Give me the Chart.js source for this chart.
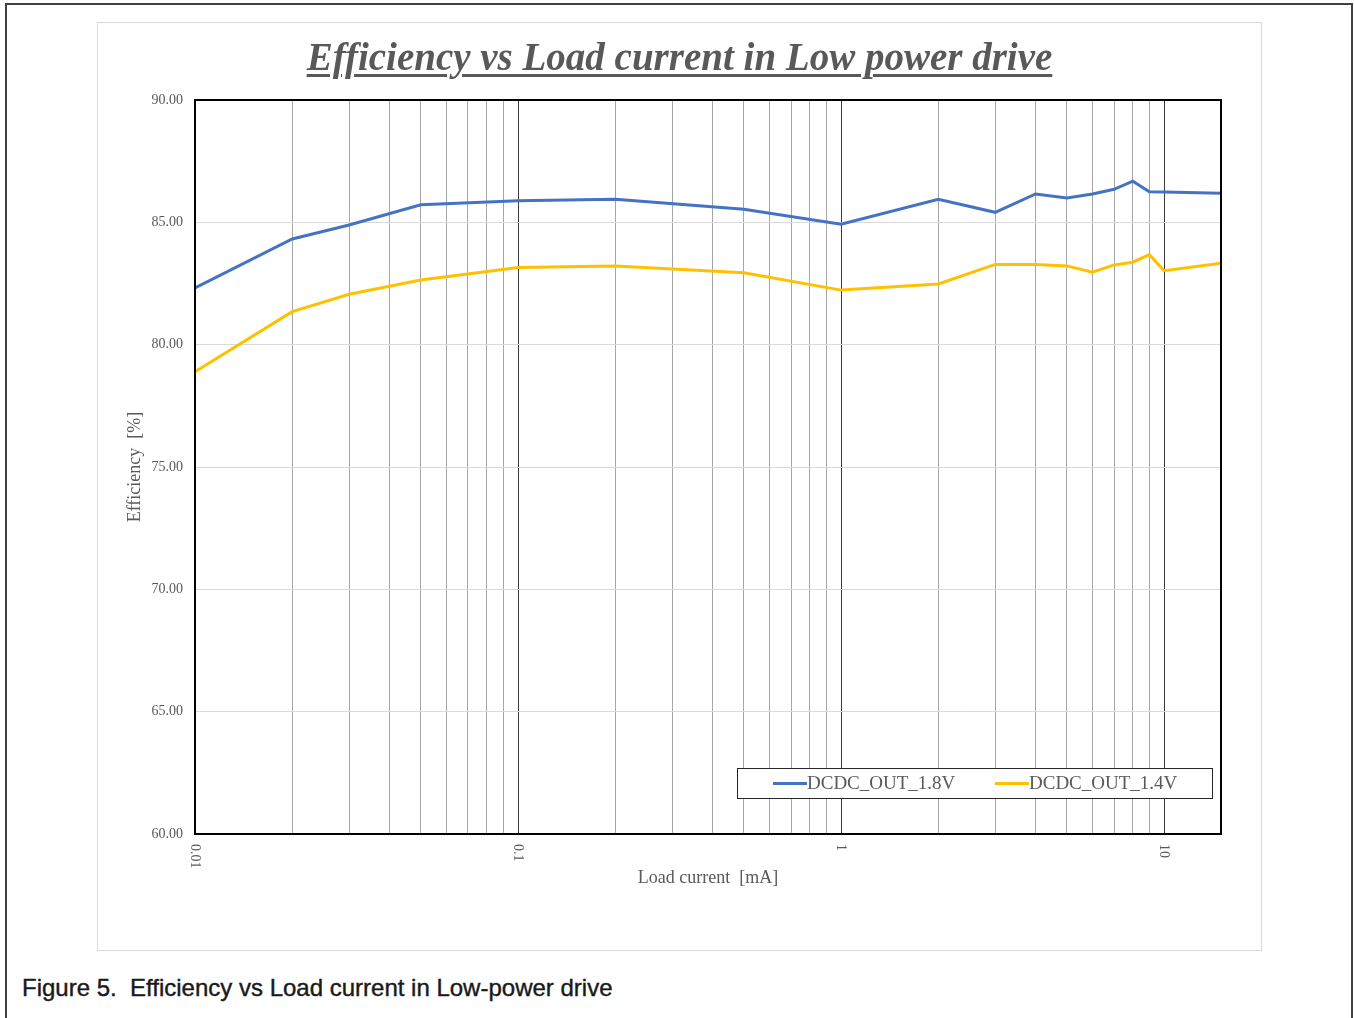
<!DOCTYPE html>
<html>
<head>
<meta charset="utf-8">
<script src="https://cdn.jsdelivr.net/npm/chart.js@4/dist/chart.umd.min.js"></script>
<style>
  html, body { margin: 0; padding: 0; background: #fff; }
  body { width: 1354px; height: 1018px; position: relative; overflow: hidden; }
  #outer { position: absolute; left: 5px; top: 3px; width: 1344px; height: 1030px; border: 2px solid #404040; }
  #frame { position: absolute; left: 97px; top: 22px; width: 1163px; height: 927px; border: 1px solid #d9d9d9; }
  #chartWrap { position: absolute; left: 97px; top: 22px; width: 1165px; height: 928px; }
  #title {
    position: absolute; left: 97px; top: 34px; width: 1165px; text-align: center;
    font-family: "Liberation Serif", "Times New Roman", serif; font-size: 39px;
    font-weight: bold; font-style: italic; color: #595959;
    text-decoration: underline; text-decoration-thickness: 3px; text-underline-offset: 4px;
  }
  #caption {
    position: absolute; left: 22px; top: 974px;
    font-family: "Liberation Sans", Arial, sans-serif; font-size: 24px; color: #1a1a1a;
    -webkit-text-stroke: 0.4px #1a1a1a;
  }
</style>
</head>
<body>
<div id="outer"></div>
<div id="frame"></div>
<div id="chartWrap"><canvas id="effChart" width="1165" height="928"></canvas></div>
<div id="title">Efficiency vs Load current in Low power drive</div>
<div id="caption">Figure 5.&nbsp; Efficiency vs Load current in Low-power drive</div>
<script>
// Efficiency vs load current
const loadCurrent = [0.01, 0.02, 0.03, 0.05, 0.1, 0.2, 0.5, 1, 2, 3, 4, 5, 6, 7, 8, 9, 10, 15];
const eff18 = [82.32, 84.32, 84.89, 85.72, 85.88, 85.94, 85.53, 84.92, 85.94, 85.41, 86.16, 86.00, 86.16, 86.35, 86.68, 86.25, 86.24, 86.19];
const eff14 = [78.89, 81.35, 82.06, 82.64, 83.15, 83.22, 82.94, 82.23, 82.48, 83.28, 83.28, 83.22, 82.96, 83.26, 83.37, 83.68, 83.02, 83.33];
const seriesNames = ['DCDC_OUT_1.8V', 'DCDC_OUT_1.4V'];
const seriesColors = ['#4472C4', '#FFC000'];
const xTickLabels = [0.01, 0.1, 1, 10];
const xGridValues = [];
[0.01, 0.1, 1].forEach(d => { for (let k = 1; k <= 9; k++) xGridValues.push(+(d * k).toPrecision(2)); });
xGridValues.push(10);
const yTicks = [60, 65, 70, 75, 80, 85, 90];

const serif = "'Liberation Serif', 'Times New Roman', serif";
const grayText = '#595959';

const frameAndLegend = {
  id: 'frameAndLegend',
  afterDatasetsDraw(chart) {
    const ctx = chart.ctx;
    const a = chart.chartArea;
    ctx.save();
    // plot border
    ctx.strokeStyle = '#000';
    ctx.lineWidth = 2;
    ctx.strokeRect(a.left, a.top, a.right - a.left, a.bottom - a.top);

    // legend box inside plot
    const w = 476, h = 31;
    const lx = a.right - 8 - w, ly = a.bottom - 35 - h;
    ctx.fillStyle = '#fff';
    ctx.fillRect(lx, ly, w, h);
    ctx.strokeStyle = '#262626';
    ctx.lineWidth = 1;
    ctx.strokeRect(lx + 0.5, ly + 0.5, w - 1, h - 1);
    ctx.font = '19px ' + serif;
    ctx.textBaseline = 'middle';
    ctx.textAlign = 'left';
    chart.data.datasets.forEach((ds, i) => {
      const sx = lx + 36 + i * 222;
      ctx.strokeStyle = ds.borderColor;
      ctx.lineWidth = 3;
      ctx.beginPath();
      ctx.moveTo(sx, ly + h / 2);
      ctx.lineTo(sx + 34, ly + h / 2);
      ctx.stroke();
      ctx.fillStyle = grayText;
      ctx.fillText(ds.label, sx + 34, ly + h / 2 + 1);
    });

    // x tick labels, rotated clockwise like the original
    const xs = chart.scales.x;
    ctx.font = '14px ' + serif;
    ctx.fillStyle = grayText;
    xTickLabels.forEach(v => {
      const x = xs.getPixelForValue(v);
      ctx.save();
      ctx.translate(x, a.bottom + 10);
      ctx.rotate(Math.PI / 2);
      ctx.textAlign = 'left';
      ctx.textBaseline = 'middle';
      ctx.fillText(String(v), 0, 0);
      ctx.restore();
    });
    ctx.restore();
  }
};

new Chart(document.getElementById('effChart'), {
  type: 'line',
  data: {
    labels: loadCurrent,
    datasets: [
      { label: seriesNames[0], data: loadCurrent.map((x, i) => ({ x: x, y: eff18[i] })),
        borderColor: seriesColors[0], borderWidth: 3, pointRadius: 0, tension: 0 },
      { label: seriesNames[1], data: loadCurrent.map((x, i) => ({ x: x, y: eff14[i] })),
        borderColor: seriesColors[1], borderWidth: 3, pointRadius: 0, tension: 0 }
    ]
  },
  options: {
    responsive: false,
    animation: false,
    layout: { padding: { left: 0, top: 78, right: 41, bottom: 0 } },
    plugins: { legend: { display: false }, tooltip: { enabled: false }, title: { display: false } },
    scales: {
      x: {
        type: 'logarithmic',
        min: 0.01,
        max: 15,
        afterBuildTicks: scale => {
          scale.ticks = xGridValues.map(v => ({ value: v }));
        },
        afterFit: scale => { scale.height = 116; },
        ticks: { display: false, autoSkip: false },
        grid: {
          drawTicks: false,
          lineWidth: 1,
          color: ctx => (xTickLabels.includes(ctx.tick && ctx.tick.value) ? '#3a3a3a' : '#a6a6a6')
        },
        border: { display: false },
        title: {
          display: true,
          text: 'Load current  [mA]',
          color: grayText,
          font: { family: serif, size: 18 },
          padding: { top: 0, bottom: 61 }
        }
      },
      y: {
        min: 60,
        max: 90,
        afterBuildTicks: scale => {
          scale.ticks = yTicks.map(v => ({ value: v }));
        },
        afterFit: scale => { scale.width = 98; },
        ticks: {
          padding: 12,
          color: grayText,
          font: { family: serif, size: 14 },
          callback: v => Number(v).toFixed(2)
        },
        grid: { drawTicks: false, color: '#d9d9d9', lineWidth: 1 },
        border: { display: false },
        title: {
          display: true,
          text: 'Efficiency  [%]',
          color: grayText,
          font: { family: serif, size: 18 },
          padding: { top: 27, bottom: 0 }
        }
      }
    }
  },
  plugins: [frameAndLegend]
});
</script>
</body>
</html>
